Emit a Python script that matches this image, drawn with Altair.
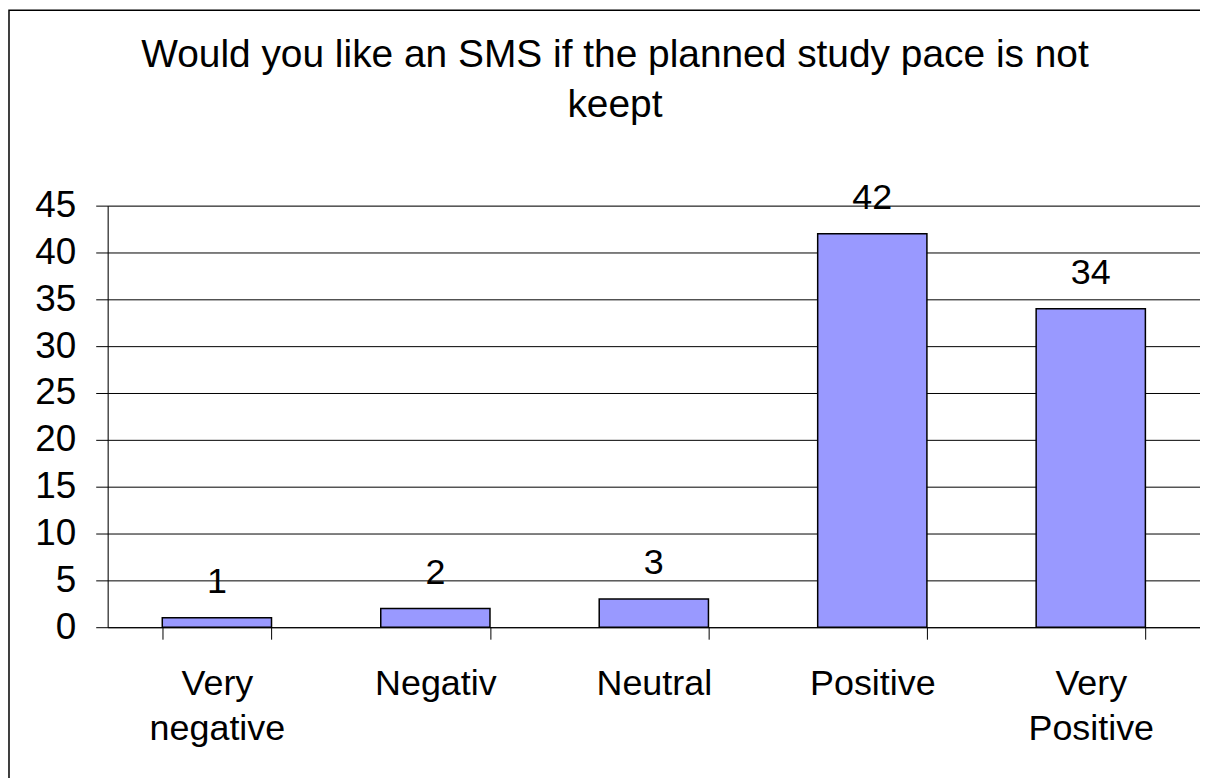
import altair as alt
import pandas as pd

categories = ["Very negative", "Negativ", "Neutral", "Positive", "Very Positive"]
values = [1, 2, 3, 42, 34]
y_ticks = [0, 5, 10, 15, 20, 25, 30, 35, 40, 45]
title_lines = ["Would you like an SMS if the planned study pace is not", "keept"]

df = pd.DataFrame({"cat": categories, "val": values})

FONT = "Liberation Sans"
W, H = 1096, 423

x = alt.X("cat:N", sort=categories, title=None,
          scale=alt.Scale(paddingInner=0.5, paddingOuter=0.25),
          axis=alt.Axis(labelAngle=0, labelFont=FONT, labelFontSize=36,
                        labelColor="black", labelLineHeight=45,
                        labelExpr="split(datum.label, ' ')",
                        tickBand="extent", tickSize=12, tickColor="black",
                        domainColor="black", labelPadding=28, grid=False,
                        labelBaseline="top"))
y = alt.Y("val:Q", title=None,
          scale=alt.Scale(domain=[0, 45], nice=False),
          axis=alt.Axis(values=y_ticks, labelFont=FONT, labelFontSize=37,
                        labelColor="black", tickSize=12, tickColor="black",
                        domainColor="black", gridColor="black", gridOpacity=1,
                        labelPadding=20, labelBaseline="middle"))

base = alt.Chart(df)

bars = base.mark_bar(color="#9999FF", stroke="black", strokeWidth=1.5).encode(x=x, y=y)
labels = base.mark_text(font=FONT, fontSize=36, color="black", dy=-25,
                        baseline="alphabetic").encode(
    x=alt.X("cat:N", sort=categories), y="val:Q", text="val:Q")

border = alt.Chart(pd.DataFrame({"a": [0]})).mark_rect(
    fill=None, stroke="black", strokeWidth=1.5, clip=False).encode(
    x=alt.value(-99), x2=alt.value(W + 200), y=alt.value(-196), y2=alt.value(H + 300))

chart = alt.layer(border, bars, labels).properties(
    width=W, height=H,
    autosize=alt.AutoSizeParams(type="none"),
    padding={"left": 100, "top": 197, "right": 0, "bottom": 150},
    title=alt.TitleParams(title_lines, font=FONT, fontSize=39, fontWeight="normal",
                          color="black", anchor="middle", frame="group",
                          dx=-39, offset=-116, lineHeight=50),
).configure_view(stroke="black", strokeWidth=1.5).configure(background="white")

chart.save("out.html", embed_options={"renderer": "svg", "actions": False})
